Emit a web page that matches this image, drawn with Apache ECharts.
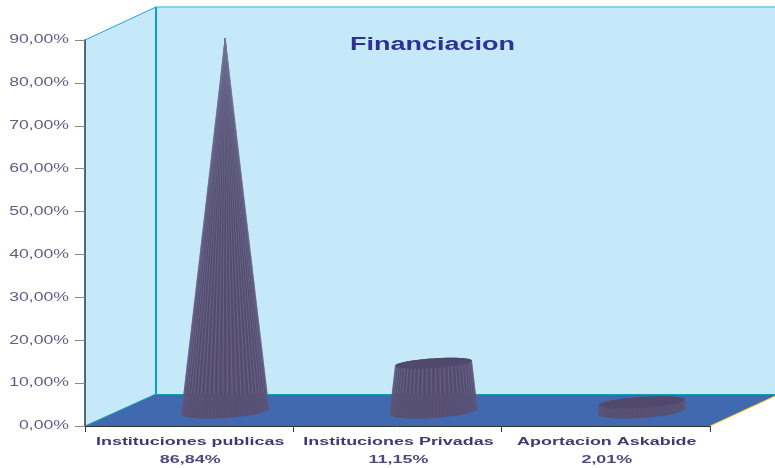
<!DOCTYPE html>
<html><head><meta charset="utf-8">
<style>html,body{margin:0;padding:0;background:#fff}#c{width:775px;height:468px}</style>
<script src="https://cdn.jsdelivr.net/npm/echarts@6/dist/echarts.min.js"></script>
</head><body><div id="c"></div>
<script>
const categories = ['Instituciones publicas', 'Instituciones Privadas', 'Aportacion Askabide'];
const valueLabels = ['86,84%', '11,15%', '2,01%'];
const values = [86.84, 11.15, 2.01];
const yTicks = [0, 10, 20, 30, 40, 50, 60, 70, 80, 90];
const yTickLabels = ['0,00%', '10,00%', '20,00%', '30,00%', '40,00%', '50,00%', '60,00%', '70,00%', '80,00%', '90,00%'];

const chart = echarts.init(document.getElementById('c'), null, {renderer: 'canvas'});
const depthX = 36, depthY = -15, baseR = 44, baseRy = 7, topRy = 5.5, tilt = 0.065, stripes = 56, apexValue = 86.84;
const FONT = 'Liberation Sans';

function renderCone(params, api) {
  const idx = api.value(0), v = api.value(1);
  const b = api.coord([idx, 0]), t = api.coord([idx, v]);
  const cx = b[0] + depthX, yb = b[1] + depthY, yt = t[1] + depthY;
  const rt = baseR * Math.max(0, 1 - v / apexValue);
  const rty = topRy * (rt / baseR);
  const bot = (c, s) => [cx - baseR * c, yb + baseRy * s + baseR * c * tilt];
  const top = (c, s) => [cx - rt * c, yt + rty * s + rt * c * tilt];
  const pts = [];
  const N = 48;
  for (let i = 0; i <= N; i++) { const a = Math.PI * i / N; pts.push(bot(Math.cos(a), Math.sin(a))); }
  for (let i = 0; i <= N; i++) { const a = Math.PI * i / N; pts.push(top(-Math.cos(a), -Math.sin(a))); }
  const children = [{type: 'polygon', shape: {points: pts}, style: {fill: '#554e72'}}];
  for (let i = 1; i < stripes; i++) {
    const a = Math.PI * i / stripes;
    const c = Math.cos(a), s = Math.sin(a);
    const p0 = bot(c, s), p1 = top(c, s);
    // the part of a stripe over the floor fades; the part above it stays light
    const floorY = b[1] - 32;
    let f = 0;
    if (p1[1] >= floorY) f = 1;
    else if (p0[1] > floorY) f = (p0[1] - floorY) / (p0[1] - p1[1]);
    const pm = [p0[0] + (p1[0] - p0[0]) * f, p0[1] + (p1[1] - p0[1]) * f];
    const col = i % 2 ? 'rgba(140,148,180,0.45)' : 'rgba(70,64,100,0.3)';
    if (f < 1) children.push({type: 'line', shape: {x1: pm[0], y1: pm[1], x2: p1[0], y2: p1[1]}, style: {stroke: col, lineWidth: 0.7}});
    children.push({type: 'line', shape: {x1: p0[0], y1: p0[1] - 1, x2: pm[0], y2: pm[1]}, style: {stroke: 'rgba(110,108,150,0.25)', lineWidth: 0.7}});
  }
  if (rt > 1) {
    const cap = [];
    for (let i = 0; i < 40; i++) { const a = 2 * Math.PI * i / 40; cap.push(top(Math.cos(a), Math.sin(a))); }
    children.push({type: 'polygon', shape: {points: cap}, style: {fill: '#50496b'}});
  }
  return {type: 'group', children};
}

function stretched(text, x, y, scaleX, font, align) {
  return {type: 'text', x, y, scaleX,
    style: {text, x: 0, y: 0, align, verticalAlign: 'middle',
      fontFamily: FONT, fontSize: font.size, fontWeight: font.weight, fill: font.color}};
}

function renderYLabel(params, api) {
  const p = api.coord([0, api.value(0)]);
  const yi = yTicks.indexOf(api.value(0));
  return stretched(yTickLabels[yi], 69, p[1], 1.47, {size: 12, weight: 'normal', color: '#625d88'}, 'right');
}

function renderXLabel(params, api) {
  const idx = api.value(0);
  const p = api.coord([idx, 0]);
  const f = {size: 11.5, weight: 'bold', color: '#3f3b72'};
  return {type: 'group', children: [
    stretched(categories[idx], p[0] + 1, p[1] + 16, 1.56, f, 'center'),
    stretched(valueLabels[idx], p[0] + 1, p[1] + 34, 1.56, {size: 11.5, weight: 'bold', color: '#4f4a7c'}, 'center')
  ]};
}

chart.setOption({
  animation: false,
  grid: {left: 85, right: 65, top: 40, bottom: 42, containLabel: false, outerBoundsMode: 'none'},
  graphic: {elements: [
    {type: 'polygon', z: -10, shape: {points: [[156, 7], [775, 7], [775, 394], [156, 394]]}, style: {fill: '#c6e9fa'}},
    {type: 'polygon', z: -10, shape: {points: [[85, 40], [156, 7], [156, 394], [85, 426]]}, style: {fill: '#c6e9fa'}},
    {type: 'polygon', z: -9, shape: {points: [[85, 426], [156, 394], [775, 394], [775, 396], [710, 426]]}, style: {fill: '#4169b0'}},
    {type: 'line', z: -8, shape: {x1: 156, y1: 7, x2: 775, y2: 7}, style: {stroke: '#6cc4ee', lineWidth: 1.5}},
    {type: 'line', z: -8, shape: {x1: 85, y1: 40, x2: 156, y2: 7}, style: {stroke: '#1ea0e0', lineWidth: 1}},
    {type: 'line', z: -8, shape: {x1: 156, y1: 7, x2: 156, y2: 394}, style: {stroke: '#0a9bdc', lineWidth: 2}},
    {type: 'line', z: -8, shape: {x1: 156, y1: 394.5, x2: 775, y2: 394.5}, style: {stroke: '#1a9cb0', lineWidth: 1}},
    {type: 'line', z: -8, shape: {x1: 85, y1: 426, x2: 156, y2: 394}, style: {stroke: '#1a9cb0', lineWidth: 1}},
    {type: 'line', z: -8, shape: {x1: 710, y1: 426, x2: 775, y2: 396}, style: {stroke: '#f5c518', lineWidth: 1}},
    {type: 'text', x: 350, y: 45, scaleX: 1.5,
      style: {text: 'Financiacion', x: 0, y: 0, align: 'left', verticalAlign: 'middle',
        fontFamily: FONT, fontWeight: 'bold', fontSize: 18, fill: '#2e3192'}}
  ]},
  xAxis: {type: 'category', data: categories,
    axisLine: {lineStyle: {color: '#333', width: 1}},
    axisTick: {show: true, alignWithLabel: false, length: 6, lineStyle: {color: '#333', width: 1}},
    axisLabel: {show: false}},
  yAxis: {type: 'value', min: 0, max: 90, interval: 10,
    axisLine: {show: true, lineStyle: {color: '#2a3a44', width: 1.5}},
    axisTick: {show: true, length: 10, lineStyle: {color: '#888'}},
    splitLine: {show: false},
    axisLabel: {show: false}},
  series: [
    {type: 'custom', renderItem: renderCone, clip: false, encode: {x: 0, y: 1}, data: values.map((v, i) => [i, v])},
    {type: 'custom', renderItem: renderYLabel, clip: false, encode: {y: 0}, data: yTicks.map(v => [v])},
    {type: 'custom', renderItem: renderXLabel, clip: false, encode: {x: 0}, data: categories.map((c, i) => [i])}
  ]
});
</script></body></html>
